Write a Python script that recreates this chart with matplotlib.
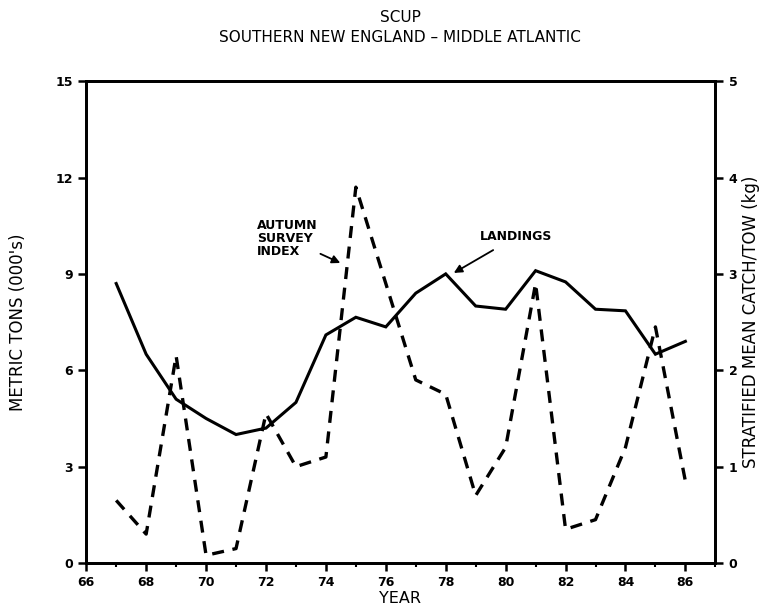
import numpy as np
import matplotlib
matplotlib.use("Agg")
import matplotlib.pyplot as plt
from matplotlib.ticker import MultipleLocator

# landings, metric tons (000's), left axis
land_years = [67, 68, 69, 70, 71, 72, 73, 74, 75, 76, 77, 78, 79, 80, 81, 82, 83, 84, 85, 86]
landings = [8.7, 6.5, 5.1, 4.5, 4.0, 4.2, 5.0, 7.1, 7.65, 7.35, 8.4, 9.0, 8.0, 7.9, 9.1, 8.75, 7.9, 7.85, 6.5, 6.9]

# autumn survey index, stratified mean catch/tow (kg), right axis
surv_years = [67, 68, 69, 70, 71, 72, 73, 74, 75, 76, 77, 78, 79, 80, 81, 82, 83, 84, 85, 86]
survey = [0.65, 0.3, 2.15, 0.08, 0.15, 1.55, 1.0, 1.1, 3.9, 2.9, 1.9, 1.75, 0.7, 1.2, 2.9, 0.35, 0.45, 1.2, 2.45, 0.85]

x_ticks = [66, 68, 70, 72, 74, 76, 78, 80, 82, 84, 86]

plt.rcParams['font.family'] = ['DejaVu Sans']

fig = plt.figure(figsize=(7.7, 6.1), dpi=100)
ax = fig.add_axes([0.112, 0.077, 0.817, 0.79])
ax2 = ax.twinx()

ax.plot(land_years, landings, color='black', lw=2.2, solid_joinstyle='miter')
ax2.plot(surv_years, survey, color='black', lw=2.4, linestyle=(0, (3.6, 2.6)))

ax.set_xlim(66, 87)
ax.set_ylim(0, 15)
ax2.set_ylim(0, 5)
ax.set_xticks(x_ticks)
ax.xaxis.set_minor_locator(MultipleLocator(1))
ax.set_yticks([0, 3, 6, 9, 12, 15])
ax2.set_yticks([0, 1, 2, 3, 4, 5])

for a in (ax, ax2):
    for s in a.spines.values():
        s.set_linewidth(2)
    a.tick_params(which='major', length=6, width=1.8, labelsize=9, direction='out')
    a.tick_params(which='minor', length=3, width=1.5, direction='out')
    for lbl in a.get_xticklabels() + a.get_yticklabels():
        lbl.set_fontweight('bold')

ax.set_ylabel("METRIC TONS (000's)", fontsize=12)
ax.yaxis.set_label_coords(-0.094, 0.5)
ax2.set_ylabel("STRATIFIED MEAN CATCH/TOW (kg)", fontsize=12, rotation=90)
ax2.yaxis.set_label_coords(1.043, 0.5)
fig.text(0.52, 0.019, "YEAR", ha='center', va='center', fontsize=11.5)

fig.text(0.52, 0.972, "SCUP", ha='center', va='center', fontsize=11)
fig.text(0.52, 0.939, "SOUTHERN NEW ENGLAND \u2013 MIDDLE ATLANTIC", ha='center', va='center', fontsize=11)

ax.annotate("AUTUMN\nSURVEY\nINDEX", xy=(74.48, 9.34), xytext=(71.7, 10.1),
            fontsize=9, fontweight='bold', ha='left', va='center', linespacing=1.0,
            arrowprops=dict(arrowstyle='-|>', color='black', lw=1.3, shrinkA=0, shrinkB=0,
                            mutation_scale=12))
ax.annotate("LANDINGS", xy=(78.27, 9.03), xytext=(79.15, 10.16),
            fontsize=9, fontweight='bold', ha='left', va='center',
            arrowprops=dict(arrowstyle='-|>', color='black', lw=1.3, shrinkA=6, shrinkB=0,
                            mutation_scale=12))

fig.savefig("out.png", dpi=100)
